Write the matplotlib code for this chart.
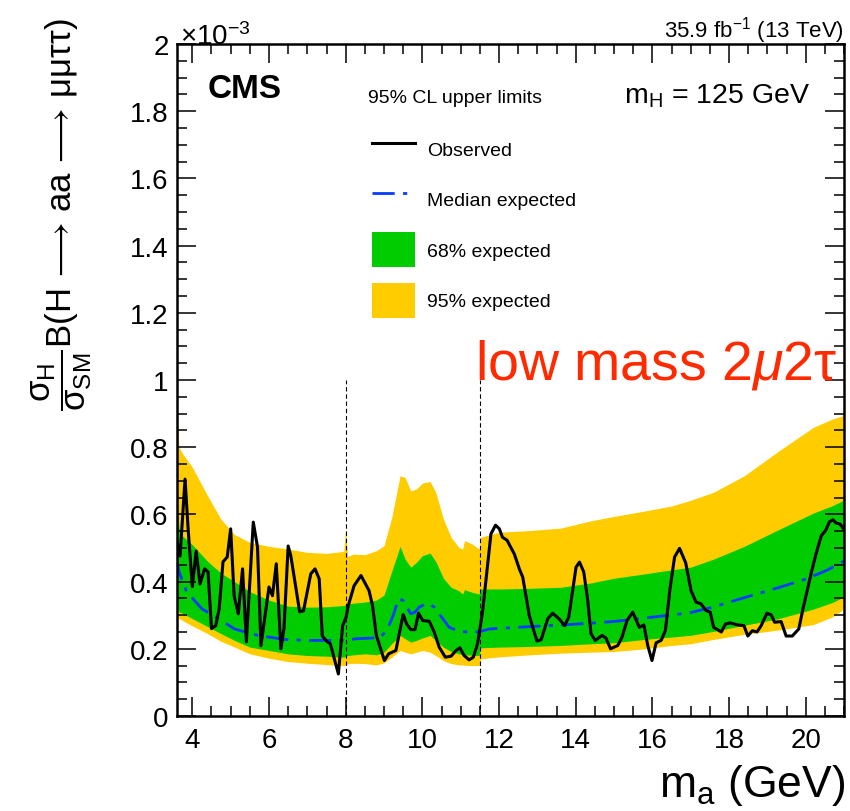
import matplotlib
matplotlib.use('Agg')
import matplotlib.pyplot as plt
from matplotlib.lines import Line2D
from matplotlib.patches import Patch
from matplotlib.ticker import MultipleLocator, FuncFormatter

plt.rcParams['font.family'] = ['Liberation Sans', 'DejaVu Sans']
plt.rcParams['mathtext.fontset'] = 'custom'
plt.rcParams['mathtext.rm'] = 'Liberation Sans'
plt.rcParams['mathtext.it'] = 'Liberation Sans:italic'
plt.rcParams['mathtext.bf'] = 'Liberation Sans:bold'
plt.rcParams['mathtext.fallback'] = 'stixsans'

# limits in units of 1e-3
band_x = [3.6, 3.65, 3.75, 4.0, 4.4, 4.75, 5.1, 5.5, 6.0, 6.5, 7.0, 7.5, 7.95, 8.0, 8.05,
          8.2, 8.5, 8.8, 9.0, 9.2, 9.42, 9.55, 9.7, 9.85, 10.0, 10.2, 10.35, 10.55, 10.75,
          10.95, 11.05, 11.1, 11.3, 11.48, 11.52, 12.0, 12.8, 13.6, 14.4, 15.0, 15.8, 16.5,
          17.0, 17.6, 18.4, 19.3, 20.2, 20.7, 20.95, 21.0]
band95_hi = [0.93, 0.80, 0.78, 0.74, 0.655, 0.585, 0.54, 0.517, 0.505, 0.497, 0.487, 0.484,
             0.49, 0.56, 0.475, 0.482, 0.48, 0.492, 0.507, 0.59, 0.715, 0.71, 0.67, 0.676,
             0.693, 0.698, 0.666, 0.586, 0.532, 0.502, 0.497, 0.522, 0.512, 0.497, 0.532,
             0.547, 0.552, 0.559, 0.581, 0.594, 0.61, 0.625, 0.642, 0.666, 0.715, 0.789,
             0.859, 0.884, 0.893, 0.92]
band68_hi = [0.66, 0.56, 0.535, 0.51, 0.46, 0.425, 0.40, 0.37, 0.345, 0.327, 0.324, 0.325,
             0.329, 0.33, 0.333, 0.336, 0.339, 0.345, 0.36, 0.43, 0.505, 0.467, 0.443, 0.458,
             0.477, 0.485, 0.46, 0.41, 0.383, 0.373, 0.363, 0.376, 0.368, 0.363, 0.378,
             0.378, 0.38, 0.383, 0.396, 0.41, 0.423, 0.435, 0.443, 0.467, 0.505, 0.555,
             0.604, 0.626, 0.64, 0.65]
band68_lo = [0.33, 0.31, 0.305, 0.29, 0.266, 0.245, 0.225, 0.205, 0.195, 0.185, 0.18, 0.178,
             0.175, 0.177, 0.18, 0.182, 0.185, 0.182, 0.19, 0.215, 0.24, 0.23, 0.22, 0.225,
             0.232, 0.24, 0.225, 0.205, 0.192, 0.185, 0.183, 0.182, 0.181, 0.18, 0.203,
             0.205, 0.207, 0.21, 0.215, 0.218, 0.228, 0.235, 0.24, 0.252, 0.27, 0.29,
             0.318, 0.338, 0.352, 0.36]
band95_lo = [0.30, 0.29, 0.284, 0.268, 0.245, 0.222, 0.205, 0.185, 0.172, 0.162, 0.157, 0.153,
             0.15, 0.152, 0.155, 0.157, 0.156, 0.152, 0.158, 0.175, 0.195, 0.19, 0.185, 0.19,
             0.195, 0.19, 0.18, 0.165, 0.156, 0.152, 0.152, 0.151, 0.15, 0.15, 0.17,
             0.176, 0.182, 0.187, 0.19, 0.192, 0.2, 0.21, 0.215, 0.228, 0.243, 0.256,
             0.272, 0.295, 0.315, 0.33]

exp_x = [3.6, 3.65, 3.85, 4.25, 4.7, 5.1, 5.7, 6.4, 7.0, 8.0, 8.27, 8.7, 8.92, 9.09, 9.24,
         9.38, 9.50, 9.61, 9.70, 9.81, 9.92, 10.09, 10.18, 10.31, 10.44, 10.57, 10.70, 10.92,
         11.14, 11.49, 11.75, 12.79, 13.66, 14.36, 14.97, 15.84, 16.97, 17.58, 18.45, 19.32,
         20.02, 20.54, 21.0]
exp_y = [0.47, 0.43, 0.37, 0.319, 0.289, 0.259, 0.24, 0.228, 0.225, 0.225, 0.23, 0.232, 0.235,
         0.259, 0.299, 0.349, 0.344, 0.321, 0.304, 0.309, 0.324, 0.334, 0.334, 0.324, 0.304,
         0.284, 0.264, 0.254, 0.25, 0.251, 0.259, 0.266, 0.271, 0.276, 0.281, 0.292, 0.307,
         0.324, 0.354, 0.383, 0.408, 0.433, 0.461]

obs_x = [3.60, 3.68, 3.81, 3.89, 4.00, 4.10, 4.20, 4.32, 4.41, 4.50, 4.61, 4.70, 4.80, 4.91,
         5.00, 5.09, 5.20, 5.31, 5.41, 5.59, 5.70, 5.79, 6.00, 6.09, 6.19, 6.31, 6.39, 6.50,
         6.57, 6.80, 6.90, 7.09, 7.20, 7.31, 7.39, 7.52, 7.60, 7.81, 7.92, 8.01, 8.07, 8.22,
         8.40, 8.61, 8.70, 8.80, 9.01, 9.12, 9.31, 9.50, 9.59, 9.70, 9.81, 9.90, 10.01, 10.18,
         10.31, 10.44, 10.60, 10.75, 10.88, 10.98, 11.09, 11.22, 11.33, 11.44, 11.57, 11.70,
         11.79, 11.91, 12.01, 12.09, 12.21, 12.40, 12.53, 12.62, 12.79, 12.99, 13.10, 13.27,
         13.40, 13.57, 13.71, 13.82, 14.01, 14.10, 14.21, 14.31, 14.40, 14.51, 14.69, 14.79,
         14.91, 15.10, 15.21, 15.34, 15.49, 15.66, 15.78, 15.88, 15.99, 16.10, 16.23, 16.34,
         16.46, 16.58, 16.71, 16.87, 17.01, 17.14, 17.27, 17.40, 17.51, 17.60, 17.80, 17.91,
         18.03, 18.23, 18.39, 18.49, 18.61, 18.73, 18.84, 18.99, 19.10, 19.19, 19.36, 19.49,
         19.65, 19.82, 19.93, 20.03, 20.15, 20.28, 20.41, 20.52, 20.62, 20.71, 20.80, 20.90,
         20.99]
obs_y = [0.518, 0.476, 0.705, 0.557, 0.385, 0.491, 0.393, 0.438, 0.429, 0.260, 0.269, 0.319,
         0.459, 0.473, 0.557, 0.358, 0.304, 0.438, 0.221, 0.577, 0.503, 0.209, 0.384, 0.358,
         0.453, 0.200, 0.259, 0.506, 0.476, 0.310, 0.313, 0.423, 0.438, 0.408, 0.238, 0.221,
         0.215, 0.125, 0.268, 0.294, 0.329, 0.388, 0.418, 0.373, 0.329, 0.240, 0.165, 0.185,
         0.195, 0.302, 0.274, 0.257, 0.257, 0.306, 0.284, 0.282, 0.250, 0.205, 0.175, 0.178,
         0.195, 0.203, 0.180, 0.167, 0.175, 0.215, 0.309, 0.448, 0.542, 0.568, 0.557, 0.532,
         0.523, 0.482, 0.438, 0.413, 0.299, 0.223, 0.227, 0.289, 0.306, 0.289, 0.269, 0.294,
         0.443, 0.458, 0.429, 0.349, 0.245, 0.225, 0.240, 0.232, 0.200, 0.210, 0.235, 0.284,
         0.309, 0.264, 0.271, 0.210, 0.165, 0.218, 0.225, 0.254, 0.378, 0.473, 0.499, 0.456,
         0.373, 0.339, 0.334, 0.314, 0.309, 0.264, 0.250, 0.274, 0.277, 0.271, 0.269, 0.238,
         0.254, 0.250, 0.269, 0.306, 0.301, 0.279, 0.281, 0.238, 0.238, 0.259, 0.319, 0.368,
         0.428, 0.487, 0.537, 0.552, 0.578, 0.584, 0.574, 0.571, 0.557]

region_edges = [8.0, 11.5]

W, H = 850, 812
fig = plt.figure(figsize=(W / 100, H / 100), dpi=100)
ax = fig.add_axes([177 / W, 95 / H, 667 / W, 672 / H])

ax.fill_between(band_x, band95_lo, band95_hi, color='#ffcc00', lw=0)
ax.fill_between(band_x, band68_lo, band68_hi, color='#00cc00', lw=0)
ax.plot(exp_x, exp_y, color='#0a3cff', lw=2.0, dashes=(8, 3, 1.5, 3))
ax.plot(obs_x, obs_y, color='black', lw=2.2)
for xe in region_edges:
    ax.plot([xe, xe], [0, 1.0], color='black', lw=0.8, dashes=(4, 2.5))

ax.set_xlim(3.6, 21.0)
ax.set_ylim(0, 2.0)
ax.xaxis.set_major_locator(MultipleLocator(2))
ax.xaxis.set_minor_locator(MultipleLocator(0.5))
ax.yaxis.set_major_locator(MultipleLocator(0.2))
ax.yaxis.set_minor_locator(MultipleLocator(0.05))
fmt = FuncFormatter(lambda v, p: '%g' % round(v, 3))
ax.xaxis.set_major_formatter(fmt)
ax.yaxis.set_major_formatter(fmt)
ax.tick_params(which='both', direction='in', top=True, right=True, width=1.1)
ax.tick_params(which='major', length=14, labelsize=20)
ax.tick_params(which='minor', length=7)
ax.tick_params(axis='x', which='major', pad=8)
ax.tick_params(axis='y', which='major', pad=6)
for sp in ax.spines.values():
    sp.set_linewidth(1.8)

# legend
handles = [Line2D([], [], color='black', lw=2.2),
           Line2D([], [], color='#0a3cff', lw=2.0, dashes=(8, 3, 1.5, 3)),
           Patch(facecolor='#00cc00', edgecolor='none'),
           Patch(facecolor='#ffcc00', edgecolor='none')]
labels = ['Observed', 'Median expected', '68% expected', '95% expected']
ax.legend(handles, labels, loc='upper left', bbox_to_anchor=(372 / W, 1 - 132 / H),
          bbox_transform=fig.transFigure, frameon=False, fontsize=14,
          handlelength=2.2, handleheight=2.4, labelspacing=0.8, handletextpad=0.65,
          borderaxespad=0, borderpad=0)

# labels and annotations
fig.text(208 / W, 1 - 98 / H, 'CMS', fontsize=24, fontweight='bold')
fig.text(368 / W, 1 - 103 / H, '95% CL upper limits', fontsize=14)
fig.text(810 / W, 1 - 103 / H, r'$\mathrm{m_H}$ = 125 GeV', fontsize=20.5, ha='right')
fig.text(844 / W, 1 - 37 / H, r'35.9 fb$^{\mathrm{-1}}$ (13 TeV)', fontsize=16, ha='right')
fig.text(180 / W, 1 - 45 / H, r'$\mathrm{\times 10^{-3}}$', fontsize=20)
fig.text(475 / W, 1 - 380 / H, r'low mass 2$\mu$2τ', fontsize=40, color='#ff2a00')
fig.text(845 / W, 1 - 797 / H, r'$\mathrm{m_a}$ (GeV)', fontsize=32, ha='right')
fig.text(62 / W, 1 - 18 / H,
         r'$\dfrac{\mathrm{σ_H}}{\mathrm{σ_{SM}}}\mathrm{B(H\,\longrightarrow\,aa\,\longrightarrow\,μμττ)}$',
         fontsize=25, rotation=90, ha='center', va='top')

fig.savefig('out.png', dpi=100)
